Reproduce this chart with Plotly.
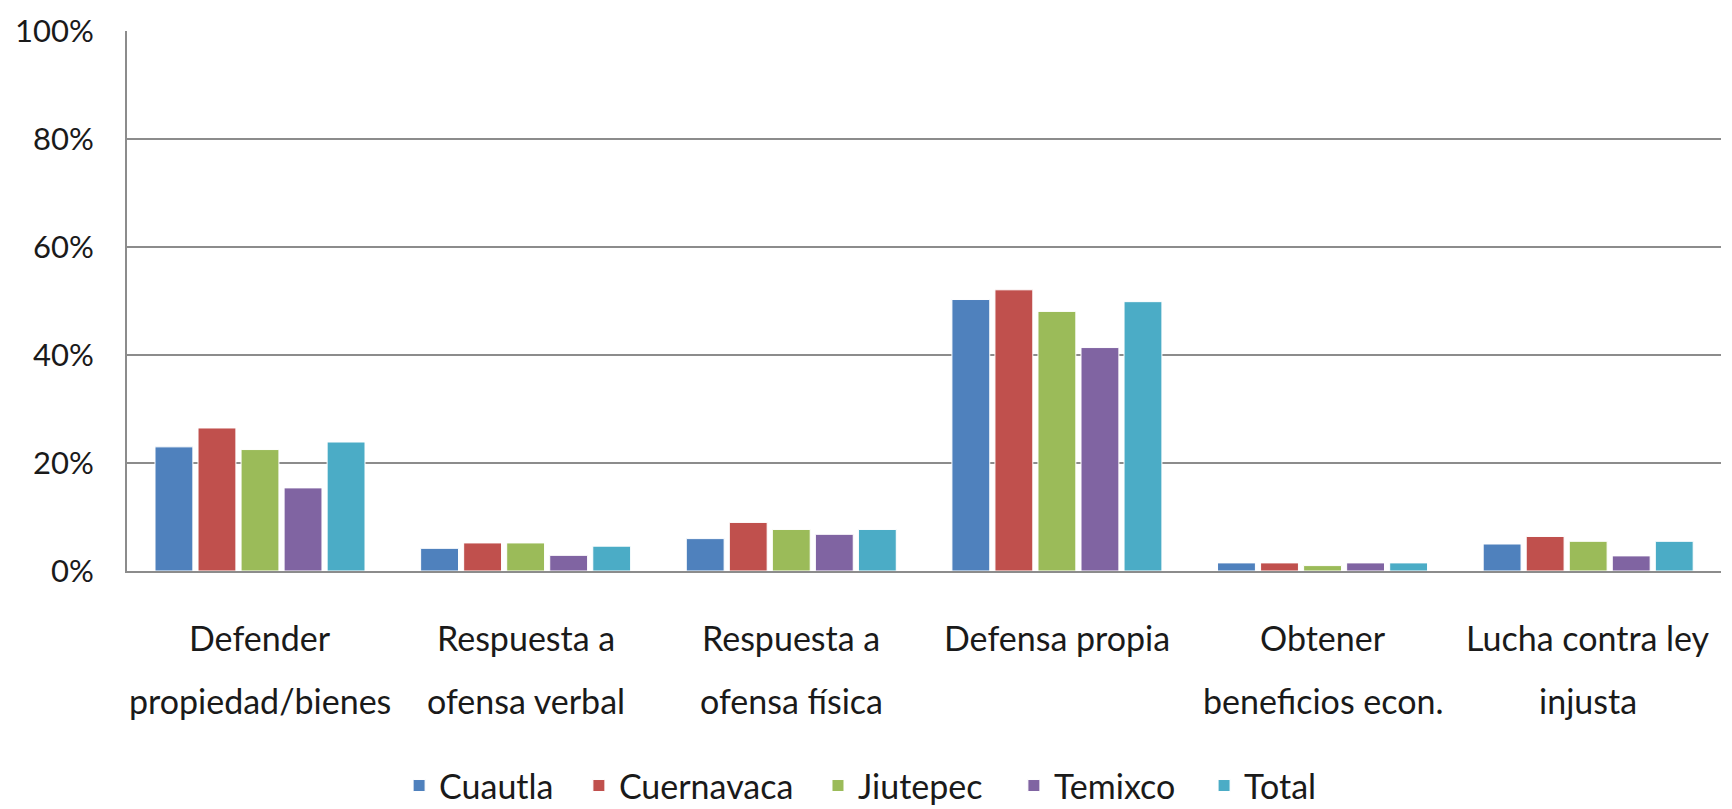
import plotly.graph_objects as go

# Motivos (categorías del eje X), cada uno partido en sus líneas de texto
categorias = [
    "Defender propiedad/bienes",
    "Respuesta a ofensa verbal",
    "Respuesta a ofensa física",
    "Defensa propia",
    "Obtener beneficios econ.",
    "Lucha contra ley injusta",
]
lineas_categoria = [
    ["Defender", "propiedad/bienes"],
    ["Respuesta a", "ofensa verbal"],
    ["Respuesta a", "ofensa física"],
    ["Defensa propia"],
    ["Obtener", "beneficios econ."],
    ["Lucha contra ley", "injusta"],
]

# Porcentajes por municipio
cuautla = [0.230, 0.042, 0.060, 0.503, 0.015, 0.050]
cuernavaca = [0.265, 0.052, 0.090, 0.521, 0.015, 0.064]
jiutepec = [0.225, 0.052, 0.077, 0.481, 0.010, 0.055]
temixco = [0.154, 0.029, 0.068, 0.414, 0.015, 0.028]
total = [0.239, 0.046, 0.077, 0.499, 0.015, 0.055]

series = [
    ("Cuautla", cuautla, "#4F81BD"),
    ("Cuernavaca", cuernavaca, "#C0504D"),
    ("Jiutepec", jiutepec, "#9BBB59"),
    ("Temixco", temixco, "#8064A2"),
    ("Total", total, "#4BACC6"),
]

y_ticks = [0, 0.2, 0.4, 0.6, 0.8, 1.0]

FONT = "Lato, sans-serif"
TEXT = "#1a1a1a"

# Posición horizontal (fracción del área de trazado) de cada entrada de leyenda
legend_x = [0.1707, 0.2835, 0.4335, 0.5564, 0.6757]
legend_ids = ["legend", "legend2", "legend3", "legend4", "legend5"]

fig = go.Figure()
for (nombre, valores, color), lid in zip(series, legend_ids):
    fig.add_trace(go.Bar(
        name=nombre,
        x=categorias,
        y=valores,
        legend=lid,
        marker=dict(color=color, line=dict(color="white", width=1)),
    ))

# Etiquetas de categoría, una línea por anotación
for cat, lineas in zip(categorias, lineas_categoria):
    for i, texto in enumerate(lineas):
        fig.add_annotation(
            x=cat, xref="x", y=0, yref="paper",
            text=texto, showarrow=False,
            xanchor="center", yanchor="middle",
            yshift=-66 - 63 * i,
            font=dict(family=FONT, size=34, color=TEXT),
        )

fig.update_layout(
    width=1732, height=809,
    margin=dict(l=127, r=11, t=31, b=238, autoexpand=False),
    paper_bgcolor="white", plot_bgcolor="white",
    barmode="group", bargap=0.19, bargroupgap=0.12,
    font=dict(family=FONT, size=34, color=TEXT),
    showlegend=True,
)

for lid, lx in zip(legend_ids, legend_x):
    fig.update_layout({
        lid: dict(
            orientation="h", x=lx, xanchor="left",
            y=-0.398, yanchor="middle",
            font=dict(family=FONT, size=34, color=TEXT),
            itemwidth=30, bgcolor="rgba(0,0,0,0)",
        )
    })

fig.update_xaxes(
    showticklabels=False, showgrid=False,
    showline=True, linecolor="#8c8c8c", linewidth=2,
    ticks="", automargin=False,
)
fig.update_yaxes(
    range=[0, 1.0005], tickvals=y_ticks, tickformat=".0%",
    showgrid=True, gridcolor="#8c8c8c", gridwidth=1.5,
    showline=True, linecolor="#8c8c8c", linewidth=2,
    zeroline=False, ticks="", ticklabelstandoff=25,
    automargin=False,
    tickfont=dict(family=FONT, size=31, color=TEXT),
)

fig.write_html("out.html")
